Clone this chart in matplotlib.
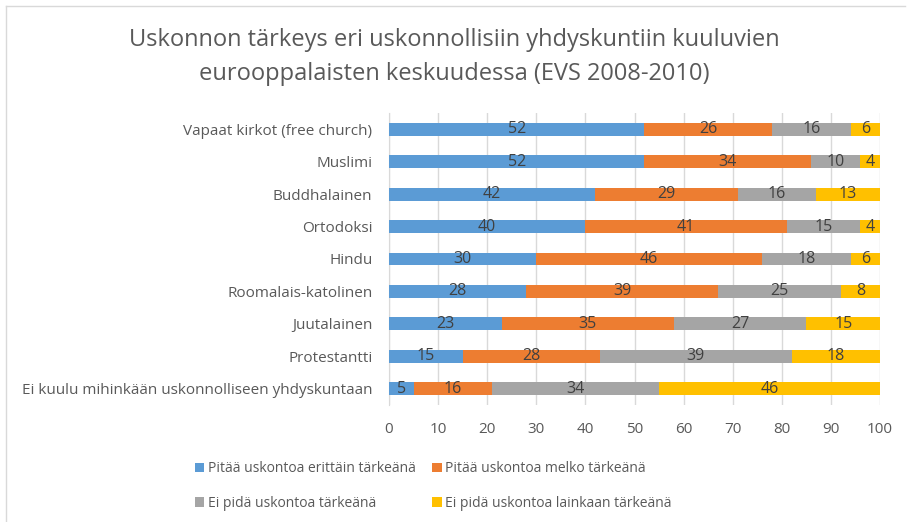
import matplotlib.pyplot as plt
from matplotlib.patches import Patch
from matplotlib.lines import Line2D

categories = [
    "Vapaat kirkot (free church)",
    "Muslimi",
    "Buddhalainen",
    "Ortodoksi",
    "Hindu",
    "Roomalais-katolinen",
    "Juutalainen",
    "Protestantti",
    "Ei kuulu mihinkään uskonnolliseen yhdyskuntaan",
]
very_important = [52, 52, 42, 40, 30, 28, 23, 15, 5]
quite_important = [26, 34, 29, 41, 46, 39, 35, 28, 16]
not_important = [16, 10, 16, 15, 18, 25, 27, 39, 34]
not_at_all = [6, 4, 13, 4, 6, 8, 15, 18, 46]

series_names = [
    "Pitää uskontoa erittäin tärkeänä",
    "Pitää uskontoa melko tärkeänä",
    "Ei pidä uskontoa tärkeänä",
    "Ei pidä uskontoa lainkaan tärkeänä",
]
colors = ["#5B9BD5", "#ED7D31", "#A5A5A5", "#FFC000"]
title = "Uskonnon tärkeys eri uskonnollisiin yhdyskuntiin kuuluvien\neurooppalaisten keskuudessa (EVS 2008-2010)"

plt.rcParams["font.family"] = ["Open Sans", "DejaVu Sans"]
text_col = "#595959"

fig = plt.figure(figsize=(9.08, 5.22), dpi=100)
ax = fig.add_axes([389 / 908, (522 - 405) / 522, 491 / 908, 292 / 522])

ypos = list(range(len(categories)))
left = [0] * len(categories)
for vals, col, name in zip([very_important, quite_important, not_important, not_at_all], colors, series_names):
    b = ax.barh(ypos, vals, left=left, height=0.4, color=col, label=name, zorder=3)
    ax.bar_label(b, label_type="center", color="#404040", fontsize=11.5, padding=0)
    left = [l + v for l, v in zip(left, vals)]

ax.set_xlim(0, 100)
ax.set_ylim(len(categories) - 0.5, -0.5)
ax.set_xticks(range(0, 101, 10))
ax.set_yticks(ypos)
ax.set_yticklabels(categories)
ax.tick_params(axis="both", length=0, colors=text_col, labelsize=11)
ax.tick_params(axis="y", pad=12)
ax.tick_params(axis="x", pad=12)
ax.grid(axis="x", color="#D9D9D9", linewidth=1, zorder=0)
for s in ["top", "right", "bottom"]:
    ax.spines[s].set_visible(False)
ax.spines["left"].set_color("#D9D9D9")

fig.text(0.5, (522 - 57) / 522, title, ha="center", va="center", fontsize=17, color=text_col,
         linespacing=1.5)

# legend: matplotlib fills column-wise, so reorder to get rows blue/orange, gray/gold
order = [0, 2, 1, 3]
handles = [Patch(facecolor=colors[i]) for i in order]
labels = [series_names[i] for i in order]
fig.legend(handles, labels, ncol=2, loc="center left", bbox_to_anchor=(182 / 908, (522 - 486) / 522),
           frameon=False, fontsize=10, labelcolor=text_col, handlelength=0.7, handleheight=0.7,
           handletextpad=0.25, columnspacing=1.2, labelspacing=1.4)

# chart area border (top and left visible)
fig.add_artist(Line2D([6 / 908, 905 / 908], [516 / 522, 516 / 522], color="#D9D9D9", lw=1))
fig.add_artist(Line2D([6 / 908, 6 / 908], [0, 516 / 522], color="#D9D9D9", lw=1))

fig.savefig("out.png", dpi=100)
